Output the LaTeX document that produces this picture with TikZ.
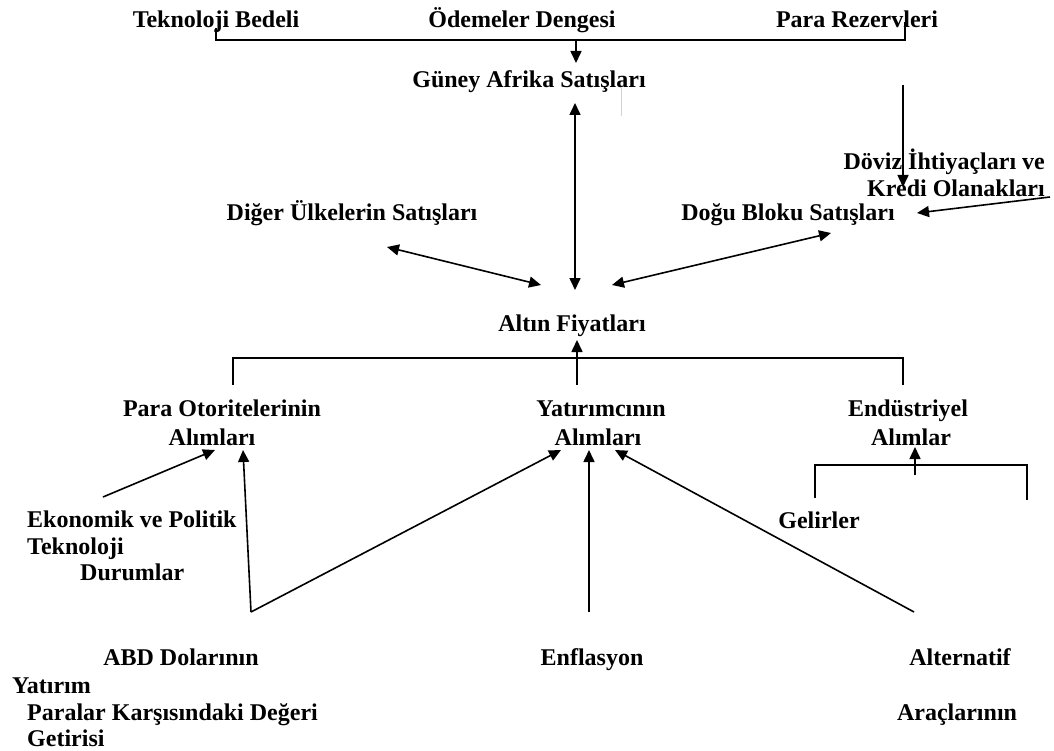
\documentclass[tikz,border=0pt]{standalone}
\usepackage{fontspec}
\setmainfont{Liberation Serif}
\usetikzlibrary{arrows.meta}
\usetikzlibrary{positioning}
\tikzstyle{factor} = [inner sep=0pt, anchor=base, font=\fontsize{24}{29}\selectfont\bfseries]
\tikzstyle{line} = [draw, line width=1.6pt, -{Triangle[length=12pt,width=11pt]}]
\tikzstyle{twoway} = [draw, line width=1.6pt,
    {Triangle[length=12pt,width=11pt]}-{Triangle[length=12pt,width=11pt]}]
\tikzstyle{bracket} = [draw, line width=1.6pt, -]

\begin{document}
\begin{tikzpicture}[x=1pt, y=-1pt]
  \useasboundingbox (0,0) rectangle (1054,751);
  % Place nodes
  \node [factor] (tekno) at (216,28) {Teknoloji Bedeli};
  \node [factor] (odeme) at (522,28) {Ödemeler Dengesi};
  \node [factor] (rezerv) at (857,28) {Para Rezervleri};
  \node [factor] (guney) at (529,88) {Güney Afrika Satışları};
  \node [factor, anchor=base east] (doviz) at (1045,170) {Döviz İhtiyaçları ve};
  \node [factor, anchor=base east] (kredi) at (1045,197) {Kredi Olanakları};
  \node [factor] (diger) at (352,221) {Diğer Ülkelerin Satışları};
  \node [factor] (dogu) at (788,221) {Doğu Bloku Satışları};
  \node [factor] (altin) at (572,331) {Altın Fiyatları};
  \node [factor] (paraot) at (222,416) {Para Otoritelerinin};
  \node [factor] (paraot2) at (212,445) {Alımları};
  \node [factor] (yatir) at (601,416) {Yatırımcının};
  \node [factor] (yatir2) at (598,445) {Alımları};
  \node [factor] (endus) at (908,416) {Endüstriyel};
  \node [factor] (endus2) at (911,445) {Alımlar};
  \node [factor] (gelir) at (819,528) {Gelirler};
  \node [factor, anchor=base west] (ekonomik) at (27,527) {Ekonomik ve Politik};
  \node [factor, anchor=base west] (teknoloji) at (27,554) {Teknoloji};
  \node [factor, anchor=base west] (durum) at (80,580) {Durumlar};
  \node [factor] (abd) at (181,665) {ABD Dolarının};
  \node [factor, anchor=base west] (yatirim) at (12,693) {Yatırım};
  \node [factor, anchor=base west] (paralar) at (27,720) {Paralar Karşısındaki Değeri};
  \node [factor, anchor=base west] (getiri) at (27,746) {Getirisi};
  \node [factor] (enf) at (592,665) {Enflasyon};
  \node [factor] (alternatif) at (960,665) {Alternatif};
  \node [factor] (araclar) at (957,720) {Araçlarının};

  \coordinate (tl) at (216,40);
  \coordinate (tr) at (905,40);
  \coordinate (top) at (576,40);
  \coordinate (rv) at (903,85);
  \coordinate (dv) at (1050,197);
  \coordinate (mid) at (577,358);

  % Draw edges
  \path [bracket] (tekno.base -| tl) -- (tl) -- (tr) -- ++(0,-18);
  \path [line] (top) -- ([xshift=47pt,yshift=25pt]guney.base);
  \path [twoway] ([xshift=46pt,yshift=-15pt]guney.base) -- ([xshift=3pt,yshift=41pt]altin.base);
  \draw [gray!35, line width=1pt] (621,88) -- (621,116);
  \path [line] (rv) -- ([xshift=115pt,yshift=34pt]dogu.base);
  \path [line] (dv) -- ([xshift=129pt,yshift=8pt]dogu.base);
  \path [twoway] ([xshift=35pt,yshift=-26pt]diger.base) -- ([xshift=-31pt,yshift=46pt]altin.base);
  \path [twoway] ([xshift=40pt,yshift=46pt]altin.base) -- ([xshift=43pt,yshift=-12pt]dogu.base);

  \path [bracket] ([xshift=11pt,yshift=31pt]paraot.base) |- (mid) -| ([xshift=-5pt,yshift=31pt]endus.base);
  \path [line] ([xshift=-24pt,yshift=31pt]yatir.base) -- ([xshift=5pt,yshift=-9pt]altin.base);
  \path [bracket] ([xshift=-4pt,yshift=30pt]gelir.base) -- ++(0,-33) -- ++(212,0) -- ++(0,35);
  \path [line] ([xshift=96pt,yshift=53pt]gelir.base) -- ([xshift=4pt,yshift=-2pt]endus2.base);

  \path [line] ([xshift=76pt,yshift=30pt]ekonomik.base west) -- ([xshift=3pt,yshift=-5pt]paraot2.base);
  \path [line] ([xshift=70pt,yshift=53pt]abd.base) -- ([xshift=31pt,yshift=-5pt]paraot2.base);
  \path [line] ([xshift=70pt,yshift=53pt]abd.base) -- ([xshift=-37pt,yshift=-5pt]yatir2.base);
  \path [line] ([xshift=-3pt,yshift=53pt]enf.base) -- ([xshift=-9pt,yshift=-5pt]yatir2.base);
  \path [line] ([xshift=-46pt,yshift=53pt]alternatif.base) -- ([xshift=17pt,yshift=-5pt]yatir2.base);
\end{tikzpicture}
\end{document}
